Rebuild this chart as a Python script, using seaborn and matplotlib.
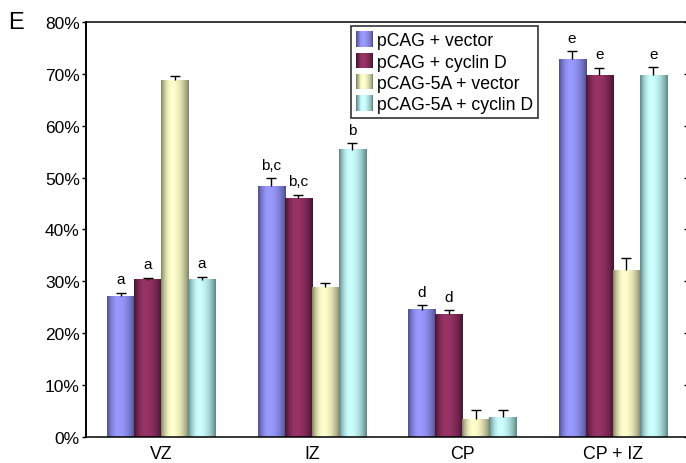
import numpy as np
import pandas as pd
import matplotlib
matplotlib.use("Agg")
import matplotlib.pyplot as plt
import seaborn as sns
from matplotlib.patches import Patch, Rectangle
from matplotlib.legend_handler import HandlerBase
from matplotlib.ticker import PercentFormatter, MultipleLocator

zones = ["VZ", "IZ", "CP", "CP + IZ"]
groups = ["pCAG + vector", "pCAG + cyclin D", "pCAG-5A + vector", "pCAG-5A + cyclin D"]

vec = [27.2, 48.4, 24.5, 72.8]
cyc = [30.3, 46.1, 23.7, 69.7]
a5_vec = [68.8, 28.8, 3.4, 32.1]
a5_cyc = [30.3, 55.4, 3.8, 69.7]

vec_err = [0.6, 1.5, 0.9, 1.6]
cyc_err = [0.4, 0.6, 0.7, 1.5]
a5_vec_err = [0.8, 0.8, 1.8, 2.4]
a5_cyc_err = [0.6, 1.3, 1.3, 1.6]

vec_sig = ["a", "b,c", "d", "e"]
cyc_sig = ["a", "b,c", "d", "e"]
a5_vec_sig = ["", "", "", ""]
a5_cyc_sig = ["a", "b", "", "e"]

# (edge colour, highlight colour) for the cylinder shading
shades = [
    ((0.31, 0.31, 0.55), (0.60, 0.60, 1.00)),
    ((0.27, 0.08, 0.19), (0.60, 0.20, 0.40)),
    ((0.52, 0.52, 0.40), (1.00, 1.00, 0.80)),
    ((0.37, 0.53, 0.53), (0.80, 1.00, 1.00)),
]


def gradient(edge, mid, n=64):
    t = np.linspace(0, 1, n)
    d = np.where(t < 0.4, (0.4 - t) / 0.4, (t - 0.4) / 0.6)
    f = 1 - d ** 2
    edge = np.array(edge)
    mid = np.array(mid)
    return edge[None, :] + (mid - edge)[None, :] * f[:, None]


class GradHandler(HandlerBase):
    def __init__(self, edge, mid):
        super().__init__()
        self.cols = gradient(edge, mid, 20)

    def create_artists(self, legend, orig_handle, xdescent, ydescent, width, height, fontsize, trans):
        n = len(self.cols)
        arts = []
        for i, c in enumerate(self.cols):
            r = Rectangle((-xdescent + i * width / n, -ydescent), width / n * 1.05, height,
                          facecolor=c, edgecolor="none", linewidth=0, transform=trans)
            arts.append(r)
        return arts


sns.set_style("white")
plt.rcParams["font.family"] = ["Liberation Sans", "DejaVu Sans"]
plt.rcParams["text.color"] = "black"
plt.rcParams["xtick.color"] = "black"
plt.rcParams["ytick.color"] = "black"
plt.rcParams["axes.labelcolor"] = "black"

df = pd.DataFrame({
    "zone": zones * 4,
    "group": np.repeat(groups, 4),
    "pct": vec + cyc + a5_vec + a5_cyc,
})

fig = plt.figure(figsize=(6.86, 4.64), dpi=100)
ax = fig.add_axes([86 / 686, 26.3 / 464, 602 / 686, 414.7 / 464])

palette = {g: s[1] for g, s in zip(groups, shades)}
sns.barplot(data=df, x="zone", y="pct", hue="group", order=zones, hue_order=groups,
            palette=palette, width=0.72, gap=0, errorbar=None, legend=False, ax=ax,
            saturation=1)

errs = [vec_err, cyc_err, a5_vec_err, a5_cyc_err]
sigs = [vec_sig, cyc_sig, a5_vec_sig, a5_cyc_sig]
bar_conts = list(ax.containers)
for k, cont in enumerate(bar_conts):
    img = gradient(*shades[k])[None, :, :]
    for j, bar in enumerate(cont.patches):
        x0 = bar.get_x()
        w = bar.get_width()
        h = bar.get_height()
        ax.imshow(img, extent=[x0, x0 + w, 0, h], aspect="auto", interpolation="bilinear",
                  zorder=2)
        bar.set_facecolor("none")
        bar.set_edgecolor("none")
        xc = x0 + w / 2
        e = errs[k][j]
        eb = ax.errorbar(xc, h, yerr=[[0], [e]], fmt="none", ecolor="black", elinewidth=1.0,
                         capsize=3.5, capthick=1.0, zorder=3)
        # keep only the upper cap
        for cl in eb[1]:
            if np.max(cl.get_ydata()) < h + e / 2:
                cl.set_visible(False)
        if sigs[k][j]:
            ax.annotate(sigs[k][j], (xc, h + e), xytext=(0, 4.5), textcoords="offset points",
                        ha="center", va="bottom", fontsize=11)

ax.set_xlim(-0.5, 3.5)
ax.set_ylim(0, 80)
ax.yaxis.set_major_locator(MultipleLocator(10))
ax.yaxis.set_major_formatter(PercentFormatter(xmax=100, decimals=0))
ax.set_xlabel("")
ax.set_ylabel("")
ax.tick_params(axis="y", direction="out", length=3, width=1, pad=1.5, labelsize=12.5, left=True)
ax.tick_params(axis="x", length=0, pad=6, labelsize=12.8)
for s in ax.spines.values():
    s.set_color("black")
    s.set_linewidth(1.1)
ax.spines["left"].set_linewidth(1.4)

ax2 = ax.twinx()
ax2.set_ylim(0, 80)
ax2.yaxis.set_major_locator(MultipleLocator(10))
ax2.tick_params(axis="y", direction="in", length=3, width=1, labelright=False, right=True)
for s in ax2.spines.values():
    s.set_visible(False)

handles = [Patch(label=g) for g in groups]
hmap = {h: GradHandler(*s) for h, s in zip(handles, shades)}
leg = ax.legend(handles=handles, handler_map=hmap, loc="upper left",
                bbox_to_anchor=(0.44, 0.99), borderaxespad=0, fontsize=12.7,
                frameon=True, fancybox=False, handlelength=0.97, handleheight=0.97,
                handletextpad=0.2, labelspacing=0.2, borderpad=0.3)
leg.get_frame().set_edgecolor("black")
leg.get_frame().set_linewidth(1.2)

fig.text(8 / 686, 1 - 12 / 464, "E", fontsize=17, va="top", ha="left")

fig.savefig("out.png", dpi=100)
